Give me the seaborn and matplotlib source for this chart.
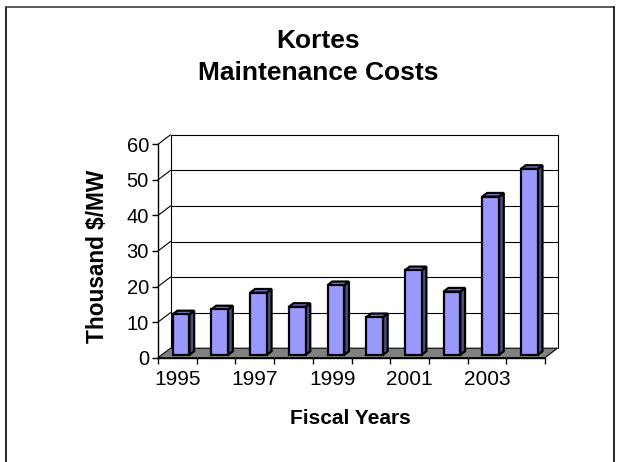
import numpy as np
import pandas as pd
import matplotlib
matplotlib.use("Agg")
import matplotlib.pyplot as plt
from matplotlib.patches import Polygon
from matplotlib.lines import Line2D
from matplotlib.transforms import ScaledTranslation, IdentityTransform
import seaborn as sns

# data
years = ["1995", "1996", "1997", "1998", "1999", "2000", "2001", "2002", "2003", "2004"]
costs = [11.4, 12.8, 17.5, 13.5, 19.6, 10.6, 23.8, 17.8, 44.5, 52.3]
y_ticks = [0, 10, 20, 30, 40, 50, 60]
shown_years = years[::2]

sns.set_style("white")
plt.rcParams["font.family"] = ["Liberation Sans", "DejaVu Sans"]
plt.rcParams["text.color"] = "black"
plt.rcParams["xtick.color"] = "black"
plt.rcParams["ytick.color"] = "black"
plt.rcParams["xtick.labelcolor"] = "black"
plt.rcParams["ytick.labelcolor"] = "black"

W, H = 621, 462
DX, DY = 12.5, 9.5          # depth of the 3-D box, in pixels
F0, F1 = 0.30, 0.68         # where the bars sit in depth

fig = plt.figure(figsize=(W / 100, H / 100), dpi=100)
ax = fig.add_axes([158 / W, 104.3 / H, 387 / W, 213.4 / H])
ax.patch.set_alpha(0)

df = pd.DataFrame({"year": years, "cost": costs})
sns.barplot(data=df, x="year", y="cost", color="#9999FF", width=0.43, saturation=1,
            edgecolor="black", linewidth=1.6, ax=ax, zorder=5)
ax.set_autoscale_on(False)
ax.set_xlim(-0.5, len(years) - 0.5)
ax.set_ylim(y_ticks[0], y_ticks[-1])

ident = IdentityTransform()


def disp(x, y, f):
    p = ax.transData.transform((x, y))
    return (p[0] + f * DX, p[1] + f * DY)


x_lo, x_hi = ax.get_xlim()
y_lo, y_hi = ax.get_ylim()

# floor
floor = Polygon([disp(x_lo, 0, 0), disp(x_hi, 0, 0), disp(x_hi, 0, 1), disp(x_lo, 0, 1)],
                closed=True, facecolor="#808080", edgecolor="black", lw=0.8,
                transform=ident, clip_on=False, zorder=1)
ax.add_patch(floor)

# gridlines on back wall and left wall
for v in y_ticks[1:]:
    ax.add_line(Line2D(*zip(disp(x_lo, v, 1), disp(x_hi, v, 1)), color="black", lw=0.8,
                       transform=ident, clip_on=False, zorder=2))
    ax.add_line(Line2D(*zip(disp(x_lo, v, 0), disp(x_lo, v, 1)), color="black", lw=0.8,
                       transform=ident, clip_on=False, zorder=2))
# back wall edges
for a, b in [((x_lo, 0), (x_lo, y_hi)), ((x_hi, 0), (x_hi, y_hi))]:
    ax.add_line(Line2D(*zip(disp(*a, 1), disp(*b, 1)), color="black", lw=0.8,
                       transform=ident, clip_on=False, zorder=2))

# 3-D bars: shift front faces, add side and top
shift = ScaledTranslation(F0 * DX / 100, F0 * DY / 100, fig.dpi_scale_trans)
for p in list(ax.patches):
    if p is floor:
        continue
    x0, w, h = p.get_x(), p.get_width(), p.get_height()
    p.set_transform(ax.transData + shift)
    p.set_clip_on(False)
    side = [disp(x0 + w, 0, F0), disp(x0 + w, h, F0), disp(x0 + w, h, F1), disp(x0 + w, 0, F1)]
    top = [disp(x0, h, F0), disp(x0 + w, h, F0), disp(x0 + w, h, F1), disp(x0, h, F1)]
    ax.add_patch(Polygon(side, closed=True, facecolor="#4D4D80", edgecolor="black", lw=1.6,
                         transform=ident, clip_on=False, zorder=4))
    ax.add_patch(Polygon(top, closed=True, facecolor="#7A7ACC", edgecolor="black", lw=1.6,
                         transform=ident, clip_on=False, zorder=4))

# axes
for s in ["top", "right"]:
    ax.spines[s].set_visible(False)
for s in ["left", "bottom"]:
    ax.spines[s].set_color("black")
    ax.spines[s].set_linewidth(1.0)
    ax.spines[s].set_zorder(6)

ax.set_yticks(y_ticks)
ax.set_yticklabels([str(v) for v in y_ticks], fontsize=14.5)
ax.tick_params(axis="y", length=4, width=1, pad=2.5, color="black", left=True)
ax.set_xticks(range(0, len(years), 2))
ax.set_xticklabels(shown_years, fontsize=15)
ax.set_xticks(np.arange(x_lo, x_hi + 0.01, 1), minor=True)
ax.tick_params(axis="x", which="major", length=0, pad=9)
ax.tick_params(axis="x", which="minor", length=4, width=1, color="black", bottom=True)
ax.set_xlabel("")
ax.set_ylabel("")

fig.text(97 / W, 1 - 256 / H, "Thousand $/MW", rotation=90, ha="center", va="center",
         fontsize=16.3, fontweight="bold")
fig.text(350.5 / W, 1 - 419 / H, "Fiscal Years", ha="center", va="center",
         fontsize=15, fontweight="bold")
fig.text(318 / W, 1 - 48 / H, "Kortes", ha="center", va="baseline",
         fontsize=19, fontweight="bold")
fig.text(318 / W, 1 - 80 / H, "Maintenance Costs", ha="center", va="baseline",
         fontsize=19, fontweight="bold")

# chart area frame
fig.add_artist(Line2D([6 / W, 6 / W], [0, 1 - 7 / H], color="black", lw=1.2))
fig.add_artist(Line2D([6 / W, 614 / W], [1 - 7 / H, 1 - 7 / H], color="#404040", lw=1.2))
fig.add_artist(Line2D([614 / W, 614 / W], [0, 1 - 7 / H], color="black", lw=1.2))

fig.savefig("out.png", dpi=100)
